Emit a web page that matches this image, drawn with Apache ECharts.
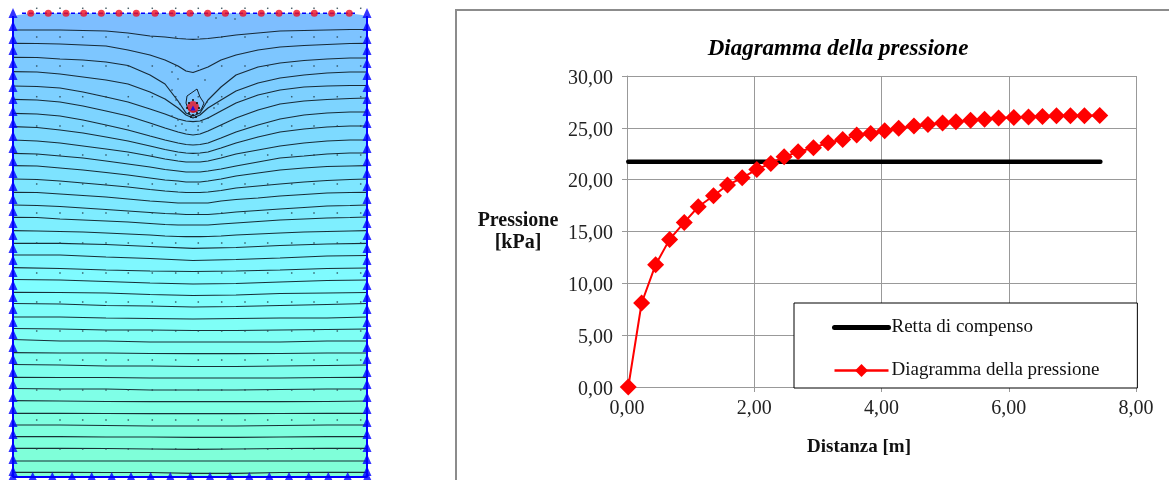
<!DOCTYPE html>
<html><head><meta charset="utf-8">
<style>html,body{margin:0;padding:0;background:#fff}#c{width:1169px;height:480px}</style>
<script src="https://cdn.jsdelivr.net/npm/echarts@6/dist/echarts.min.js"></script>
</head><body><div id="c"></div>
<script>
// ---- pressure diagram ----
const pressureDist = [0.02,0.23,0.45,0.67,0.90,1.12,1.36,1.58,1.81,2.04,2.26,2.47,2.69,2.93,3.16,3.39,3.61,3.83,4.05,4.27,4.51,4.73,4.96,5.17,5.40,5.62,5.84,6.08,6.31,6.53,6.75,6.97,7.19,7.43];
const pressureVal = [0,8.1,11.8,14.24,15.88,17.39,18.45,19.48,20.18,20.99,21.57,22.2,22.69,23.08,23.56,23.88,24.3,24.46,24.72,24.95,25.17,25.33,25.46,25.58,25.72,25.84,25.94,26.0,26.04,26.1,26.16,26.16,26.16,26.2];
const fitDist = [0.02,7.44];
const fitVal = [21.73,21.73];
const xTicks = [0,2,4,6,8];
const yTicks = [0,5,10,15,20,25,30];

// ---- seepage model (model units) ----
const nearX = [13,37,60,83,106,128,150,165,178,186,193,200,208,221,236,258,280,304,327,350,367];
const nearRows = [
[30,30,30,30.5,31,33,36,37,38.5,39,39.3,39,38.5,37,35,33,31,30.5,30,29.5,29.5],
[43.3,43.5,44,45,46,50,55,60,66,71,72.5,70,67,60,55,50,47,45.5,44.5,43.5,43.3],
[57.3,57.5,59,60,62,65.5,75,84,101,113,116,113,100,87,75,67,63,60.5,59,58,58],
[71.7,72,74,77,80,84,92,99,108,115,118,115,108,100,91,83,78,75,73,72,72],
[86,86.5,88,92,97,102,109,114,119,121,121.7,121,118,111,103,95,90,87,86,85.5,85.5],
[99.3,100,102,106,111,116,123,128,132,134,135,134,131,125,118,110,104,101,99.5,98.5,98],
[113.3,114,116,120,125,130,136,140,143,144.5,145,144.5,143,138,132,125,119,115,113,112,112],
[126.7,127.5,130,133,137,141,146,149.5,152,153,153.3,153,152,148,143,137,132,129,127,126,126],
[140,141,143,146,149,152,156,159,161,162,162,162,161,158,154,150,146,143,141,140,140],
[153.3,154,156,158,161,164,167,169.5,171,172,172,172,171,169,166,162,158,156,154,153,153],
[165.7,166,168,170,172.5,175,178,180,181,182,182,182,181,179,176,173,170,168,166.5,166,165.7],
[179,179.5,181,183,185,187,189.5,191,192,192.5,192.5,192.5,192,190.5,188,186,184,182,180.5,179.5,179],
[192.3,192.5,194,195.5,197,199,201,202,203,203,203,203,203,201,199.5,198,196,194.5,193,192.5,192.3],
[205,205.5,206.5,208,209.5,211,212.5,213.5,214,214.5,214.5,214.5,214.5,213.5,212,210.5,209,207.5,206,205.5,205],
[217.3,217.5,219,220,221,222,223.5,224.5,225,225,225,225,225,224,223,221.5,220,219,218,217.5,217],
[230.7,231,231.5,232,233,234,235,236,236.5,236.7,236.7,236.7,236.5,236,235,234,233,232,231.5,231,230.7]
];
const farX = [13,60,106,150,193,236,280,327,367];
const farRows = [
[243.3,243.3,244.5,246.5,248.3,247.5,245.5,244,243.3],
[255,255,257,258.5,260.5,259.5,258,256,255.5],
[267.7,268.5,270,271,271.5,271,270,268.5,268],
[279.5,280,281.5,283,284,283.5,282,280.5,280],
[292.3,292.5,293,294.5,295.5,295,293.5,293,292.5],
[303.5,304,305.5,306,307,306.5,305.5,304.5,303.5],
[317,317,318,318.5,319,318.5,318,318,317],
[328.5,329,330,330,330.5,330.5,330,329.5,329],
[339.5,341,341,342,342,342,342,341,341],
[352.7,353,353,353.5,353.7,353.7,353.5,353,353],
[364.5,365,366,366,366.5,366.5,366,365.5,365],
[377.3,377.5,377.5,378,378,378,378,377.5,377.3],
[388.5,389,389,390,390,390,389.5,389,389],
[400.7,401,401.5,401.7,401.7,401.7,401.7,401.5,401],
[413.3,413.3,413.5,413.7,413.7,413.7,413.5,413.3,413.3],
[425,425,425.5,426,426,426,425.5,425,425],
[436.7,436.7,437,437,437.3,437.3,437,436.7,436.7],
[448.3,448.3,448.5,449,449.3,449,448.5,448.3,448.3],
[461,461,461,461,461,461,461,461,461],
[472.3,472.3,472.5,472.5,473.3,473.3,472.5,472.3,472.3]
];
const topEdge = [[13,17],[18,15],[30,13.3],[349,13.3],[362,15],[367,17]];
const wallEdge = [[13,16],[13,477],[367,477],[367,16]];
const surfaceX = [30.7,48.3,66,83.7,101.3,119,136.3,155,172.3,190,207.7,225.3,243,261.3,279,296.7,314.3,331.7,349.3];
const wallY = [13,26,39,50,63,75,87,99,111,123,136,148,161,173,186,199,211,223,235,248,260,272,285,297,309,322,334,347,359,372,384,397,409,422,434,447,459,471];
const floorX = [12.7,32.7,52.3,72,91.7,111.7,131,150.7,170.3,190.3,210,230,249.3,269.3,289,308.7,328.3,347.7,367.3];
const nodeX = [36.7,60,82.7,106,128.3,152.3,175.7,198.3,221.7,245,267.7,291.7,314,337.3,360.7];
const nodeY = [8.3,37,66,96.7,126,155,184,213,243,273,302,331,360,390,420,449];
const wellNodes = [[172,72],[178,79],[205,80],[172,90],[176,100],[180,104],[207,102],[214,108],[218,104],[172,116],[178,120],[182,124],[202,122],[208,118],[186,130],[198,130],[216,18],[235,19]];
const wellRing = [[189,103],[193,100],[197,103],[199,108],[197,113],[193,115],[189,113],[187,108],[191,117],[196,117]];
const well = [[193,107]];
const wellCentre = [[193,108]];
const teardrop = [[193,112],[188,109],[186,103],[187,96],[197,89],[200,97],[204,103],[201,110],[193,112]];
const bandStops = [[13,[125,190,255]],[150,[125,222,255]],[290,[127,255,255]],[478,[127,255,212]]];

function bandColor(y){
  for(let i=1;i<bandStops.length;i++){
    if(y<=bandStops[i][0]){
      const a=bandStops[i-1],b=bandStops[i],t=(y-a[0])/(b[0]-a[0]);
      const c=a[1].map((v,k)=>Math.round(v+(b[1][k]-v)*t));
      return 'rgb('+c.join(',')+')';
    }
  }
  return 'rgb(127,255,212)';
}
const modelSeries=[];
const base={type:'line',xAxisIndex:1,yAxisIndex:1,symbol:'none',silent:true,animation:false};
modelSeries.push(Object.assign({},base,{name:'top',z:1,data:topEdge,lineStyle:{width:0},areaStyle:{origin:'end',color:bandColor(14),opacity:1}}));
let z=2;
function addContour(xs,row){
  modelSeries.push(Object.assign({},base,{name:'c'+z,z:z,data:xs.map((x,i)=>[x,row[i]]),
    lineStyle:{color:'#0c1a22',width:1.2,opacity:.9},
    areaStyle:{origin:'end',color:bandColor(row[0]+6),opacity:1}}));
  z++;
}
nearRows.forEach(r=>addContour(nearX,r));
farRows.forEach(r=>addContour(farX,r));
z=60;
const scat=(name,data,o)=>modelSeries.push(Object.assign({type:'scatter',name,xAxisIndex:1,yAxisIndex:1,data,silent:true,animation:false,z:z++,clip:false},o));
modelSeries.push(Object.assign({},base,{name:'teardrop',z:z++,data:teardrop,lineStyle:{color:'#12202a',width:1}}));
const nodes=[];nodeY.forEach(y=>nodeX.forEach(x=>nodes.push([x,y])));
scat('nodes',nodes,{symbol:'rect',symbolSize:1.5,itemStyle:{color:'#26404a'}});
scat('wellNodes',wellNodes,{symbol:'rect',symbolSize:1.5,itemStyle:{color:'#26404a'}});
modelSeries.push(Object.assign({},base,{name:'wall',z:z++,data:wallEdge,clip:false,lineStyle:{color:'#0000ff',width:2}}));
modelSeries.push(Object.assign({},base,{name:'surface',z:z++,data:[[22,13.3],[356,13.3]],clip:false,lineStyle:{color:'#0000ff',width:1.5,type:[4,3]}}));
scat('surfaceDots',surfaceX.map(x=>[x,13.3]),{symbol:'circle',symbolSize:7,itemStyle:{color:'#f01020'}});
scat('wallL',wallY.map(y=>[13,y]),{symbol:'triangle',symbolSize:[9,10],itemStyle:{color:'#0000ff'}});
scat('wallR',wallY.map(y=>[367,y]),{symbol:'triangle',symbolSize:[9,10],itemStyle:{color:'#0000ff'}});
scat('floor',floorX.map(x=>[x,476]),{symbol:'triangle',symbolSize:[8,8],itemStyle:{color:'#0000ff'}});
scat('well',well,{symbol:'circle',symbolSize:12,itemStyle:{color:'#e81020'}});
scat('wellRing',wellRing,{symbol:'rect',symbolSize:2,itemStyle:{color:'#101010'}});
scat('wellCentre',wellCentre,{symbol:'triangle',symbolSize:5,itemStyle:{color:'#0000ff'}});

const F='"Liberation Serif","Times New Roman",serif';
const grey='#999999';
const fmt=v=>v.toFixed(2).replace('.',',');
const chart=echarts.init(document.getElementById('c'),null,{renderer:'canvas'});
chart.setOption({
  animation:false,backgroundColor:'#fff',
  graphic:[{type:'rect',z:-10,shape:{x:456,y:10,width:760,height:520},style:{fill:'#fff',stroke:'#8c8c8c',lineWidth:2}}],
  title:{text:'Diagramma della pressione',left:833,top:33,textAlign:'center',
    textStyle:{fontFamily:F,fontSize:23,fontWeight:'bold',fontStyle:'italic',color:'#000'}},
  legend:{data:[
      {name:'Retta di compenso',itemStyle:{opacity:0},lineStyle:{width:5,color:'#000',cap:'round'}},
      {name:'Diagramma della pressione',lineStyle:{width:2.5}}],
    orient:'vertical',left:794,top:303,
    padding:[15,38,8,38],itemWidth:54,itemHeight:16,itemGap:24,backgroundColor:'#fff',borderColor:'#000',borderWidth:1,
    textStyle:{fontFamily:F,fontSize:19,color:'#111',padding:[0,0,0,-2]},z:50},
  grid:[
    {left:627,top:76,width:509,height:311,containLabel:false},
    {left:0,top:0,width:380,height:478}
  ],
  xAxis:[
    {type:'value',gridIndex:0,min:0,max:8,interval:2,name:'Distanza [m]',nameLocation:'middle',nameGap:49,
     nameTextStyle:{fontFamily:F,fontSize:19,fontWeight:'bold',color:'#111',padding:[2,0,0,-45]},
     axisLine:{lineStyle:{color:grey}},axisTick:{length:5,lineStyle:{color:grey}},
     axisLabel:{formatter:fmt,fontFamily:F,fontSize:20,color:'#222',margin:12,customValues:xTicks},
     splitLine:{show:true,lineStyle:{color:grey,width:1}}},
    {type:'value',gridIndex:1,min:0,max:380,show:false,splitLine:{show:false}}
  ],
  yAxis:[
    {type:'value',gridIndex:0,min:0,max:30,interval:5,name:'Pressione\n[kPa]',nameLocation:'middle',nameRotate:0,nameGap:109,
     nameTextStyle:{fontFamily:F,fontSize:20,fontWeight:'bold',color:'#111',align:'center',lineHeight:22,padding:[0,0,78,0]},
     axisLine:{show:true,lineStyle:{color:grey}},axisTick:{show:true,length:5,lineStyle:{color:grey}},
     axisLabel:{formatter:fmt,fontFamily:F,fontSize:20,color:'#222',margin:14,verticalAlign:'top',lineHeight:5,customValues:yTicks},
     splitLine:{show:true,lineStyle:{color:grey,width:1}}},
    {type:'value',gridIndex:1,min:0,max:478,inverse:true,show:false,splitLine:{show:false}}
  ],
  series:[
    {name:'Retta di compenso',type:'line',xAxisIndex:0,yAxisIndex:0,z:5,symbol:'none',
     data:fitDist.map((x,i)=>[x,fitVal[i]]),lineStyle:{color:'#000',width:4.5,cap:'round'},itemStyle:{color:'#000'},animation:false},
    {name:'Diagramma della pressione',type:'line',xAxisIndex:0,yAxisIndex:0,z:6,symbol:'diamond',symbolSize:17,
     data:pressureDist.map((x,i)=>[x,pressureVal[i]]),lineStyle:{color:'#ff0000',width:2},itemStyle:{color:'#ff0000'},animation:false,clip:false}
  ].concat(modelSeries)
});
</script></body></html>
